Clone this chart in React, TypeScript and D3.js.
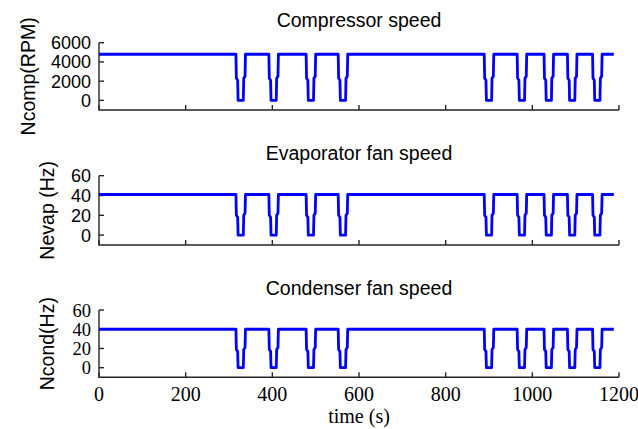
import { useEffect, useRef } from "react";
import * as d3 from "d3";

// time stamps (s), shared by the three signals
const timeS = [
  0,
  316, 317, 320, 321, 333, 334, 337, 338,
  392, 393, 396, 397, 409, 410, 413, 414,
  478, 479, 482, 483, 495, 496, 499, 500,
  552, 553, 556, 557, 569, 570, 573, 574,
  889, 890, 893, 894, 906, 907, 910, 911,
  965, 966, 969, 970, 982, 983, 986, 987,
  1027, 1028, 1031, 1032, 1044, 1045, 1048, 1049,
  1081, 1082, 1085, 1086, 1098, 1099, 1102, 1103,
  1139, 1140, 1143, 1144, 1156, 1157, 1160, 1161,
  1188,
];

const ncomp = [
  4800,
  4800, 2300, 2100, 0, 0, 2300, 2500, 4800,
  4800, 2300, 2100, 0, 0, 2300, 2500, 4800,
  4800, 2300, 2100, 0, 0, 2300, 2500, 4800,
  4800, 2300, 2100, 0, 0, 2300, 2500, 4800,
  4800, 2300, 2100, 0, 0, 2300, 2500, 4800,
  4800, 2300, 2100, 0, 0, 2300, 2500, 4800,
  4800, 2300, 2100, 0, 0, 2300, 2500, 4800,
  4800, 2300, 2100, 0, 0, 2300, 2500, 4800,
  4800, 2300, 2100, 0, 0, 2300, 2500, 4800,
  4800,
];

const nevap = [
  41,
  41, 20, 18, 0, 0, 20, 22, 41,
  41, 20, 18, 0, 0, 20, 22, 41,
  41, 20, 18, 0, 0, 20, 22, 41,
  41, 20, 18, 0, 0, 20, 22, 41,
  41, 20, 18, 0, 0, 20, 22, 41,
  41, 20, 18, 0, 0, 20, 22, 41,
  41, 20, 18, 0, 0, 20, 22, 41,
  41, 20, 18, 0, 0, 20, 22, 41,
  41, 20, 18, 0, 0, 20, 22, 41,
  41,
];

const ncond = [
  40,
  40, 19, 17, 0, 0, 19, 21, 40,
  40, 19, 17, 0, 0, 19, 21, 40,
  40, 19, 17, 0, 0, 19, 21, 40,
  40, 19, 17, 0, 0, 19, 21, 40,
  40, 19, 17, 0, 0, 19, 21, 40,
  40, 19, 17, 0, 0, 19, 21, 40,
  40, 19, 17, 0, 0, 19, 21, 40,
  40, 19, 17, 0, 0, 19, 21, 40,
  40, 19, 17, 0, 0, 19, 21, 40,
  40,
];

const xTicks = [0, 200, 400, 600, 800, 1000, 1200];
const compTicks = [0, 2000, 4000, 6000];
const fanTicks = [0, 20, 40, 60];

const SANS = "Arial, 'Liberation Sans', sans-serif";
const SERIF = "'Times New Roman', 'Liberation Serif', serif";

const panels = [
  {
    title: "Compressor speed",
    ylabel: "Ncomp(RPM)",
    values: ncomp,
    domain: [-1000, 6000],
    ticks: compTicks,
    top: 42.7,
    bottom: 110,
    titleY: 27,
    labelX: 35,
    tickFont: SANS,
    tickSize: 18,
  },
  {
    title: "Evaporator fan speed",
    ylabel: "Nevap (Hz)",
    values: nevap,
    domain: [-10, 60],
    ticks: fanTicks,
    top: 175.7,
    bottom: 245,
    titleY: 160,
    labelX: 54,
    tickFont: SANS,
    tickSize: 18,
  },
  {
    title: "Condenser fan speed",
    ylabel: "Ncond(Hz)",
    values: ncond,
    domain: [-10, 60],
    ticks: fanTicks,
    top: 310,
    bottom: 377.3,
    titleY: 295,
    labelX: 54,
    tickFont: SERIF,
    tickSize: 18.5,
  },
];

const W = 638;
const H = 429;

export default function App() {
  const svgRef = useRef<SVGSVGElement | null>(null);

  useEffect(() => {
    const svg = d3.select(svgRef.current);
    svg.selectAll("*").remove();

    const x = d3.scaleLinear().domain([0, 1200]).range([99, 619]);
    const axisColor = "#262626";

    panels.forEach((p, i) => {
      const y = d3.scaleLinear().domain(p.domain).range([p.bottom, p.top]);
      const isLast = i === panels.length - 1;

      // axes lines (box off, left + bottom only)
      svg
        .append("path")
        .attr("d", `M${x(0)},${p.top}V${p.bottom}H${x(1200)}`)
        .attr("fill", "none")
        .attr("stroke", axisColor)
        .attr("stroke-width", 1.4);

      // x ticks (inward)
      xTicks.forEach((t) => {
        svg
          .append("line")
          .attr("x1", x(t))
          .attr("x2", x(t))
          .attr("y1", p.bottom)
          .attr("y2", p.bottom - 5)
          .attr("stroke", axisColor)
          .attr("stroke-width", 1.4);
        if (isLast) {
          svg
            .append("text")
            .attr("x", x(t))
            .attr("y", p.bottom + 23.5)
            .attr("text-anchor", "middle")
            .attr("font-family", SERIF)
            .attr("font-size", 20)
            .attr("fill", "#000")
            .text(t);
        }
      });

      // y ticks (inward)
      p.ticks.forEach((t) => {
        svg
          .append("line")
          .attr("x1", x(0))
          .attr("x2", x(0) + 5)
          .attr("y1", y(t))
          .attr("y2", y(t))
          .attr("stroke", axisColor)
          .attr("stroke-width", 1.4);
        svg
          .append("text")
          .attr("x", x(0) - 8)
          .attr("y", y(t))
          .attr("dy", "0.36em")
          .attr("text-anchor", "end")
          .attr("font-family", p.tickFont)
          .attr("font-size", p.tickSize)
          .attr("fill", "#000")
          .text(t);
      });

      // title
      svg
        .append("text")
        .attr("x", (x(0) + x(1200)) / 2)
        .attr("y", p.titleY)
        .attr("text-anchor", "middle")
        .attr("font-family", SANS)
        .attr("font-size", 19.5)
        .attr("fill", "#000")
        .text(p.title);

      // y label
      svg
        .append("text")
        .attr("transform", `translate(${p.labelX},${(p.top + p.bottom) / 2}) rotate(-90)`)
        .attr("text-anchor", "middle")
        .attr("font-family", SANS)
        .attr("font-size", 19.5)
        .attr("fill", "#000")
        .text(p.ylabel);

      // signal
      const line = d3
        .line<number>()
        .x((_, k) => x(timeS[k]))
        .y((v) => y(v));

      svg
        .append("path")
        .datum(p.values)
        .attr("d", line)
        .attr("fill", "none")
        .attr("stroke", "#0000ff")
        .attr("stroke-width", 2.8)
        .attr("stroke-linejoin", "round");
    });

    svg
      .append("text")
      .attr("x", (x(0) + x(1200)) / 2)
      .attr("y", 423)
      .attr("text-anchor", "middle")
      .attr("font-family", SERIF)
      .attr("font-size", 20)
      .attr("fill", "#000")
      .text("time (s)");
  }, []);

  return (
    <svg
      ref={svgRef}
      width={W}
      height={H}
      style={{ position: "absolute", left: 0, top: 0, background: "#fff" }}
    />
  );
}
